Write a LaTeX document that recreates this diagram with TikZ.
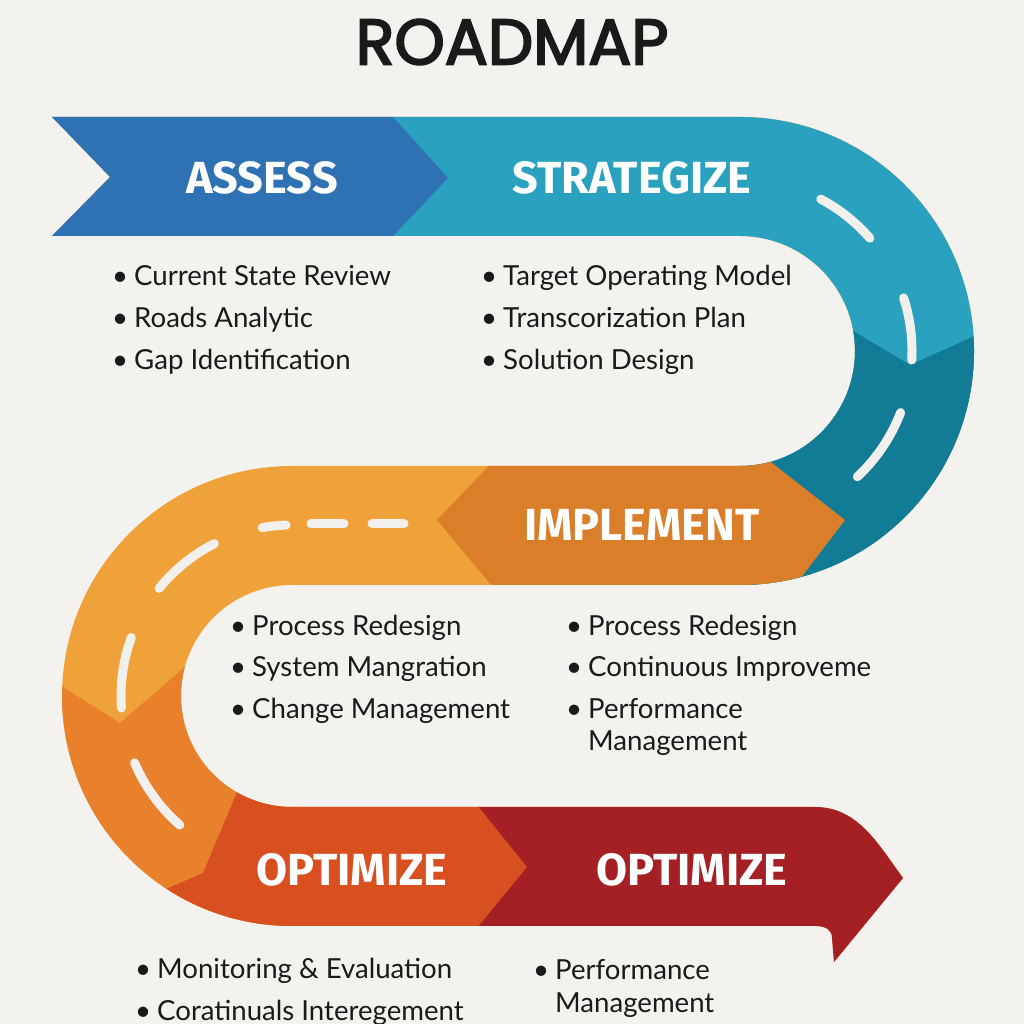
\documentclass[tikz,border=0pt]{standalone}
\usepackage{fontspec}
\setmainfont{Lato}
\newfontfamily\labelfont{Fira Sans}
\newfontfamily\titlefont{Poppins}[FakeBold=3]
\definecolor{bgc}{RGB}{243,242,238}
\definecolor{cblue}{RGB}{46,114,180}
\definecolor{cteal}{RGB}{42,161,190}
\definecolor{cdteal}{RGB}{18,124,150}
\definecolor{corl}{RGB}{240,162,58}
\definecolor{corim}{RGB}{218,126,42}
\definecolor{corm}{RGB}{232,128,44}
\definecolor{cored}{RGB}{217,80,32}
\definecolor{cred}{RGB}{165,32,36}
\definecolor{dashc}{RGB}{242,240,236}
\definecolor{txt}{RGB}{26,26,26}
\newcommand\bl{\makebox[22pt][l]{\textbullet}}
\begin{document}
\begin{tikzpicture}[x=1pt,y=1pt,
  lbl/.style={font=\labelfont\bfseries\fontsize{45}{45}\selectfont, text=white, inner sep=0pt},
  item/.style={font=\fontsize{27.6}{32}\selectfont, text=txt, anchor=base west, inner sep=0pt},
  roaddash/.style={line width=9pt, line cap=round, draw=dashc}]
\useasboundingbox (0,0) rectangle (1024,1024);
\fill[bgc] (0,0) rectangle (1024,1024);

% road shape
\begin{scope}
\clip (52,907) -- (740,907) arc[start angle=90,end angle=-90,radius=234]
  -- (292,439) arc[start angle=90,end angle=270,radius=111]
  -- (815,217) .. controls (858,217) and (878,180) .. (903,146)
  -- (834,62) -- (832,86) .. controls (832,94) and (826,98) .. (815,98)
  -- (292,98) arc[start angle=270,end angle=90,radius=230]
  -- (740,558) arc[start angle=-90,end angle=90,radius=115]
  -- (52,788) -- (110,847) -- cycle;
\fill[corl] (0,0) rectangle (1024,1024);
\fill[cteal] (393,1000) -- (1024,1000) -- (1024,380) -- (740,380) -- (740,788) -- (393,788) -- cycle;
\fill[cblue] (0,1000) -- (393,1000) -- (393,907) -- (448,846) -- (393,788) -- (0,788) -- cycle;
\fill[cdteal] (790,731) -- (910,659) -- (1010,704) -- (1010,380) -- (740,380) -- (740,731) -- cycle;
\fill[corim] (529,600) -- (722,600) -- (845,504) -- (781,420) -- (507,420) -- (437,504) -- cycle;
\fill[corm] (20,364) -- (120,301) -- (260,422) -- (300,300) -- (300,0) -- (20,0) -- cycle;
\fill[cored] (249,260) -- (444,260) -- (527,157) -- (431,40) -- (20,40) -- (20,85) -- (150,128) -- (203,151) -- cycle;
\fill[cred] (444,260) -- (527,157) -- (431,40) -- (1024,40) -- (1024,260) -- cycle;
\end{scope}

% lane dashes
\draw[roaddash] (740,673) ++(62:172) arc[start angle=62,end angle=41,radius=172];
\draw[roaddash] (740,673) ++(18:172) arc[start angle=18,end angle=-3,radius=172];
\draw[roaddash] (740,673) ++(-21:172) arc[start angle=-21,end angle=-47,radius=172];
\draw[roaddash] (372,500) -- (404,500);
\draw[roaddash] (311,500) -- (344,500);
\draw[roaddash] (292,328) ++(92:171) arc[start angle=92,end angle=100,radius=171];
\draw[roaddash] (292,328) ++(117:171) arc[start angle=117,end angle=141,radius=171];
\draw[roaddash] (292,328) ++(160:171) arc[start angle=160,end angle=184,radius=171];
\draw[roaddash] (292,328) ++(203:171) arc[start angle=203,end angle=229,radius=171];

% title and labels
\node[inner sep=0pt, text=txt] (title) at (512,982) {\titlefont\fontsize{64}{64}\selectfont ROADMAP};
\node[lbl] (assess) at (262,846) {ASSESS};
\node[lbl] (strat) at (632,846) {STRATEGIZE};
\node[lbl] (impl) at (642,499) {IMPLEMENT};
\node[lbl] (opt1) at (352,154) {OPTIMIZE};
\node[lbl] (opt2) at (692,154) {OPTIMIZE};

% bullet lists
\node[item] (a1) at (112,738) {\bl Current State Review};
\node[item] (a2) at (112,696) {\bl Roads Analytic};
\node[item] (a3) at (112,654) {\bl Gap Identification};
\node[item] (s1) at (481,738) {\bl Target Operating Model};
\node[item] (s2) at (481,696) {\bl Transcorization Plan};
\node[item] (s3) at (481,654) {\bl Solution Design};
\node[item] (i1) at (230,388) {\bl Process Redesign};
\node[item] (i2) at (230,347) {\bl System Mangration};
\node[item] (i3) at (230,305) {\bl Change Management};
\node[item] (j1) at (566,388) {\bl Process Redesign};
\node[item] (j2) at (566,347) {\bl Continuous Improveme};
\node[item] (j3) at (566,305) {\bl Performance};
\node[item] (j4) at (588,273) {Management};
\node[item] (o1) at (135,45) {\bl Monitoring \& Evaluation};
\node[item] (o2) at (135,4) {\bl Coratinuals Interegement};
\node[item] (p1) at (533,44) {\bl Performance};
\node[item] (p2) at (555,12) {Management};
\end{tikzpicture}
\end{document}
